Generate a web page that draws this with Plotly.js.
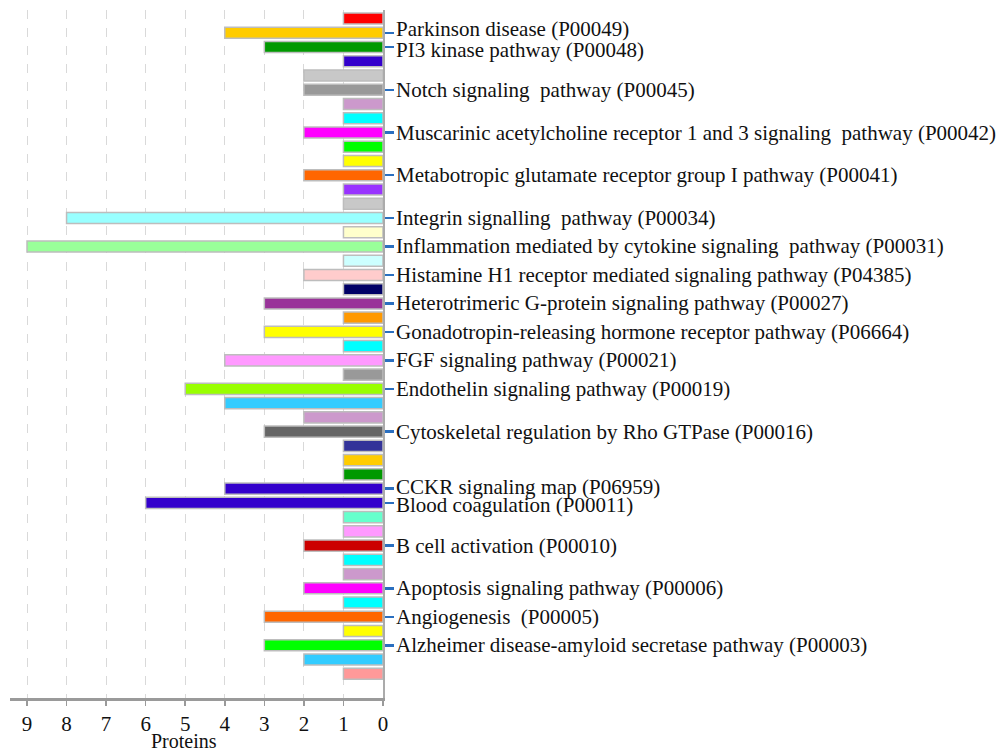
<!DOCTYPE html>
<html>
<head>
<meta charset="utf-8">
<script src="https://cdn.plot.ly/plotly-3.0.1.min.js"></script>
<style>html,body{margin:0;padding:0;background:#fff;}#chart{width:1000px;height:754px;}</style>
</head>
<body>
<div id="chart"></div>
<script>
// Bars from top to bottom; only some bars carry a pathway label
const pathwayLabels = [
  "", "Parkinson disease (P00049)", "PI3 kinase pathway (P00048)", "", "",
  "Notch signaling\u00a0 pathway (P00045)", "", "",
  "Muscarinic acetylcholine receptor 1 and 3 signaling\u00a0 pathway (P00042)", "", "",
  "Metabotropic glutamate receptor group I pathway (P00041)", "", "",
  "Integrin signalling\u00a0 pathway (P00034)", "",
  "Inflammation mediated by cytokine signaling\u00a0 pathway (P00031)", "",
  "Histamine H1 receptor mediated signaling pathway (P04385)", "",
  "Heterotrimeric G-protein signaling pathway (P00027)", "",
  "Gonadotropin-releasing hormone receptor pathway (P06664)", "",
  "FGF signaling pathway (P00021)", "",
  "Endothelin signaling pathway (P00019)", "", "",
  "Cytoskeletal regulation by Rho GTPase (P00016)", "", "", "",
  "CCKR signaling map (P06959)", "Blood coagulation (P00011)", "", "",
  "B cell activation (P00010)", "", "",
  "Apoptosis signaling pathway (P00006)", "",
  "Angiogenesis\u00a0 (P00005)", "",
  "Alzheimer disease-amyloid secretase pathway (P00003)", "", ""
];
const proteins = [
  1, 4, 3, 1, 2, 2, 1, 1, 2, 1, 1, 2, 1, 1, 8, 1, 9, 1, 2, 1, 3, 1, 3, 1,
  4, 1, 5, 4, 2, 3, 1, 1, 1, 4, 6, 1, 1, 2, 1, 1, 2, 1, 3, 1, 3, 2, 1
];
const barColors = [
  "#FF0000", "#FFCC00", "#009900", "#3300CC", "#C8C8C8", "#999999", "#CC99CC", "#00FFFF",
  "#FF00FF", "#00FF00", "#FFFF00", "#FF6600", "#9933FF", "#C8C8C8", "#99FFFF", "#FFFFCC",
  "#99FF99", "#CCFFFF", "#FFCCCC", "#000066", "#993399", "#FF9900", "#FFFF00", "#00FFFF",
  "#FF99FF", "#999999", "#99FF00", "#33CCFF", "#CC99CC", "#666666", "#333399", "#FFCC00",
  "#009900", "#3300CC", "#3300CC", "#66FFCC", "#FF99FF", "#CC0000", "#00FFFF", "#CC99CC",
  "#FF00FF", "#00FFFF", "#FF6600", "#FFFF00", "#00FF00", "#33CCFF", "#FF9999"
];
const xTicks = [9, 8, 7, 6, 5, 4, 3, 2, 1, 0];
const xTitle = "Proteins";

// label text offsets (px) for crowded neighbouring labels
const labelNudge = { 1: 3.5, 2: -2.5, 33: 1.5, 34: -2 };

const positions = proteins.map((_, i) => i);
const tickvals = [];
const labelAnnotations = [];
pathwayLabels.forEach((t, i) => {
  if (!t) return;
  tickvals.push(i);
  labelAnnotations.push({
    text: t, xref: "x", yref: "y", x: 0, y: i,
    xanchor: "left", yanchor: "middle", xshift: 11, yshift: labelNudge[i] || 0,
    showarrow: false,
    font: { size: 21, family: "Liberation Serif", color: "#111" }
  });
});

const trace = {
  type: "bar",
  orientation: "h",
  x: proteins,
  y: positions,
  width: 0.78,
  marker: { color: barColors, line: { color: "#BDBDBD", width: 1.5 } },
  hoverinfo: "x"
};

const layout = {
  width: 1000, height: 754,
  margin: { l: 10, r: 617, t: 10, b: 56 },
  paper_bgcolor: "#fff", plot_bgcolor: "#fff",
  showlegend: false,
  font: { family: "Liberation Serif, Times New Roman, serif", color: "#111" },
  xaxis: {
    range: [9.43, 0],
    tickvals: xTicks,
    ticktext: xTicks.map(String),
    showgrid: true, gridcolor: "#D9D9D9", griddash: "dash", gridwidth: 1,
    zeroline: false,
    showline: true, linecolor: "#9A9A9A", linewidth: 2.5,
    ticks: "outside", ticklen: 5, tickcolor: "#9A9A9A", tickwidth: 1.5,
    tickfont: { size: 21, family: "Liberation Serif", color: "#111" }
  },
  yaxis: {
    range: [47.7, -0.6],
    side: "right",
    tickvals: tickvals, ticktext: tickvals.map(() => ""),
    showgrid: false, zeroline: false,
    showline: true, linecolor: "#ABABAB", linewidth: 2,
    ticks: "outside", ticklen: 9, tickcolor: "#2A6FC0", tickwidth: 2.5
  },
  annotations: labelAnnotations.concat([{
    text: xTitle, xref: "paper", yref: "paper",
    x: 0.466, y: -0.0625, xanchor: "center", yanchor: "middle",
    showarrow: false, font: { size: 20, family: "Liberation Serif", color: "#111" }
  }])
};

Plotly.newPlot("chart", [trace], layout, { staticPlot: true, displayModeBar: false });
</script>
</body>
</html>
